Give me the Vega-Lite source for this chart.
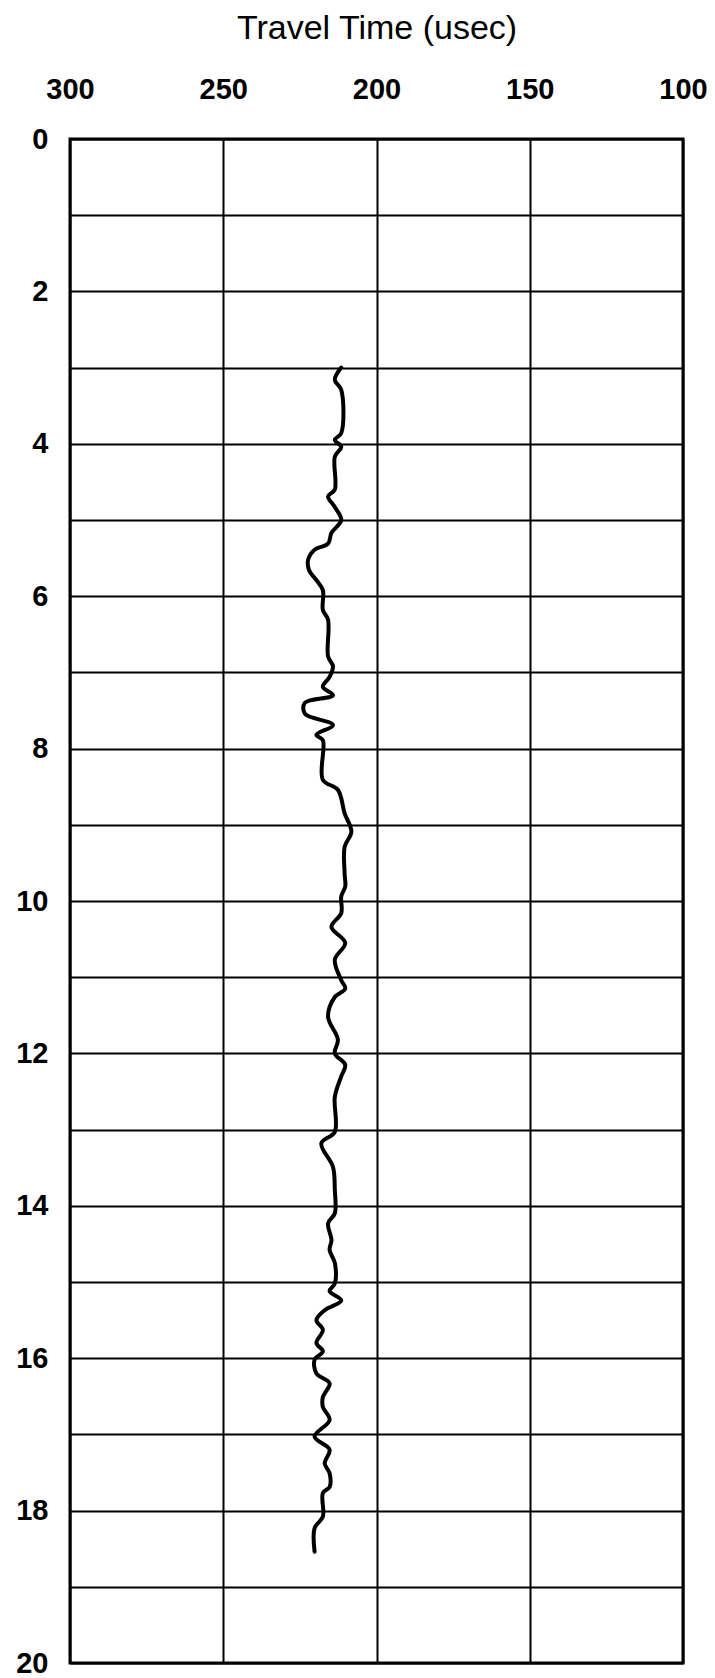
{
  "$schema": "https://vega.github.io/schema/vega-lite/v6.json",
  "width": 613,
  "height": 1524,
  "autosize": {"type": "none"},
  "padding": {"left": 70, "top": 139, "right": 32, "bottom": 15},
  "background": "white",
  "config": {
    "font": "Liberation Sans",
    "view": {"stroke": "black", "strokeWidth": 3}
  },
  "data": {
    "values": [
      {"depth": 3.0, "time": 211.5}, {"depth": 3.16, "time": 213.6}, {"depth": 3.29, "time": 211.5},
      {"depth": 3.86, "time": 211.5}, {"depth": 3.95, "time": 213.6}, {"depth": 4.04, "time": 211.5},
      {"depth": 4.17, "time": 213.6}, {"depth": 4.6, "time": 213.6}, {"depth": 4.69, "time": 215.8},
      {"depth": 4.83, "time": 213.6}, {"depth": 5.0, "time": 211.5}, {"depth": 5.17, "time": 214.7},
      {"depth": 5.31, "time": 215.8}, {"depth": 5.39, "time": 220.2}, {"depth": 5.52, "time": 222.3},
      {"depth": 5.66, "time": 222.0}, {"depth": 5.79, "time": 219.6}, {"depth": 5.92, "time": 217.5},
      {"depth": 6.18, "time": 217.5}, {"depth": 6.31, "time": 215.8}, {"depth": 6.79, "time": 215.8},
      {"depth": 6.92, "time": 214.2}, {"depth": 7.06, "time": 215.3}, {"depth": 7.19, "time": 217.5},
      {"depth": 7.3, "time": 214.2}, {"depth": 7.4, "time": 223.4}, {"depth": 7.54, "time": 223.4},
      {"depth": 7.69, "time": 214.2}, {"depth": 7.82, "time": 219.6}, {"depth": 7.89, "time": 217.5},
      {"depth": 8.41, "time": 217.5}, {"depth": 8.54, "time": 212.6}, {"depth": 8.85, "time": 210.4},
      {"depth": 9.09, "time": 208.2}, {"depth": 9.29, "time": 210.4}, {"depth": 9.64, "time": 210.4},
      {"depth": 9.81, "time": 210.2}, {"depth": 9.94, "time": 211.5}, {"depth": 10.16, "time": 211.5},
      {"depth": 10.34, "time": 214.7}, {"depth": 10.55, "time": 210.2}, {"depth": 10.77, "time": 213.6},
      {"depth": 11.04, "time": 211.5}, {"depth": 11.15, "time": 210.2}, {"depth": 11.26, "time": 213.6},
      {"depth": 11.52, "time": 215.8}, {"depth": 11.82, "time": 212.6}, {"depth": 12.0, "time": 213.6},
      {"depth": 12.15, "time": 210.2}, {"depth": 12.3, "time": 211.5}, {"depth": 12.57, "time": 213.6},
      {"depth": 13.03, "time": 213.6}, {"depth": 13.18, "time": 218.0}, {"depth": 13.49, "time": 214.2},
      {"depth": 13.79, "time": 213.6}, {"depth": 14.1, "time": 213.6}, {"depth": 14.23, "time": 215.8},
      {"depth": 14.45, "time": 214.7}, {"depth": 14.58, "time": 215.3}, {"depth": 14.75, "time": 213.6},
      {"depth": 15.02, "time": 213.6}, {"depth": 15.12, "time": 215.3}, {"depth": 15.24, "time": 211.5},
      {"depth": 15.37, "time": 216.9}, {"depth": 15.5, "time": 219.6}, {"depth": 15.63, "time": 217.5},
      {"depth": 15.8, "time": 219.6}, {"depth": 15.91, "time": 217.5}, {"depth": 16.02, "time": 220.2},
      {"depth": 16.2, "time": 219.6}, {"depth": 16.33, "time": 215.3}, {"depth": 16.51, "time": 217.5},
      {"depth": 16.64, "time": 217.5}, {"depth": 16.81, "time": 215.3}, {"depth": 17.03, "time": 220.2},
      {"depth": 17.2, "time": 215.3}, {"depth": 17.38, "time": 216.9}, {"depth": 17.51, "time": 215.3},
      {"depth": 17.69, "time": 215.3}, {"depth": 17.77, "time": 217.5}, {"depth": 18.08, "time": 217.5},
      {"depth": 18.23, "time": 220.2}, {"depth": 18.54, "time": 220.2}
    ]
  },
  "mark": {"type": "line", "color": "black", "strokeWidth": 4, "strokeJoin": "round", "strokeCap": "round", "interpolate": "catmull-rom"},
  "encoding": {
    "x": {
      "field": "time",
      "type": "quantitative",
      "scale": {"domain": [100, 300], "reverse": true, "nice": false, "zero": false},
      "axis": {
        "orient": "top",
        "title": "Travel Time (usec)",
        "titleFontSize": 34,
        "titleFontWeight": "normal",
        "titleColor": "black",
        "titlePadding": 30,
        "values": [300, 250, 200, 150, 100],
        "labelFontSize": 29,
        "labelFontWeight": "bold",
        "labelColor": "black",
        "labelPadding": 35,
        "ticks": false,
        "tickSize": 0,
        "domain": false,
        "grid": true,
        "gridColor": "black",
        "gridWidth": 2,
        "gridOpacity": 1,
        "labelFlush": false
      }
    },
    "y": {
      "field": "depth",
      "type": "quantitative",
      "scale": {"domain": [0, 20], "reverse": true, "nice": false, "zero": false},
      "axis": {
        "title": null,
        "values": [0, 1, 2, 3, 4, 5, 6, 7, 8, 9, 10, 11, 12, 13, 14, 15, 16, 17, 18, 19, 20],
        "labelExpr": "datum.value % 2 === 0 ? datum.label : ''",
        "labelFontSize": 29,
        "labelFontWeight": "bold",
        "labelColor": "black",
        "labelPadding": 22,
        "ticks": false,
        "tickSize": 0,
        "domain": false,
        "grid": true,
        "gridColor": "black",
        "gridWidth": 2,
        "gridOpacity": 1,
        "labelFlush": false
      }
    },
    "order": {"field": "depth", "type": "quantitative"}
  }
}
